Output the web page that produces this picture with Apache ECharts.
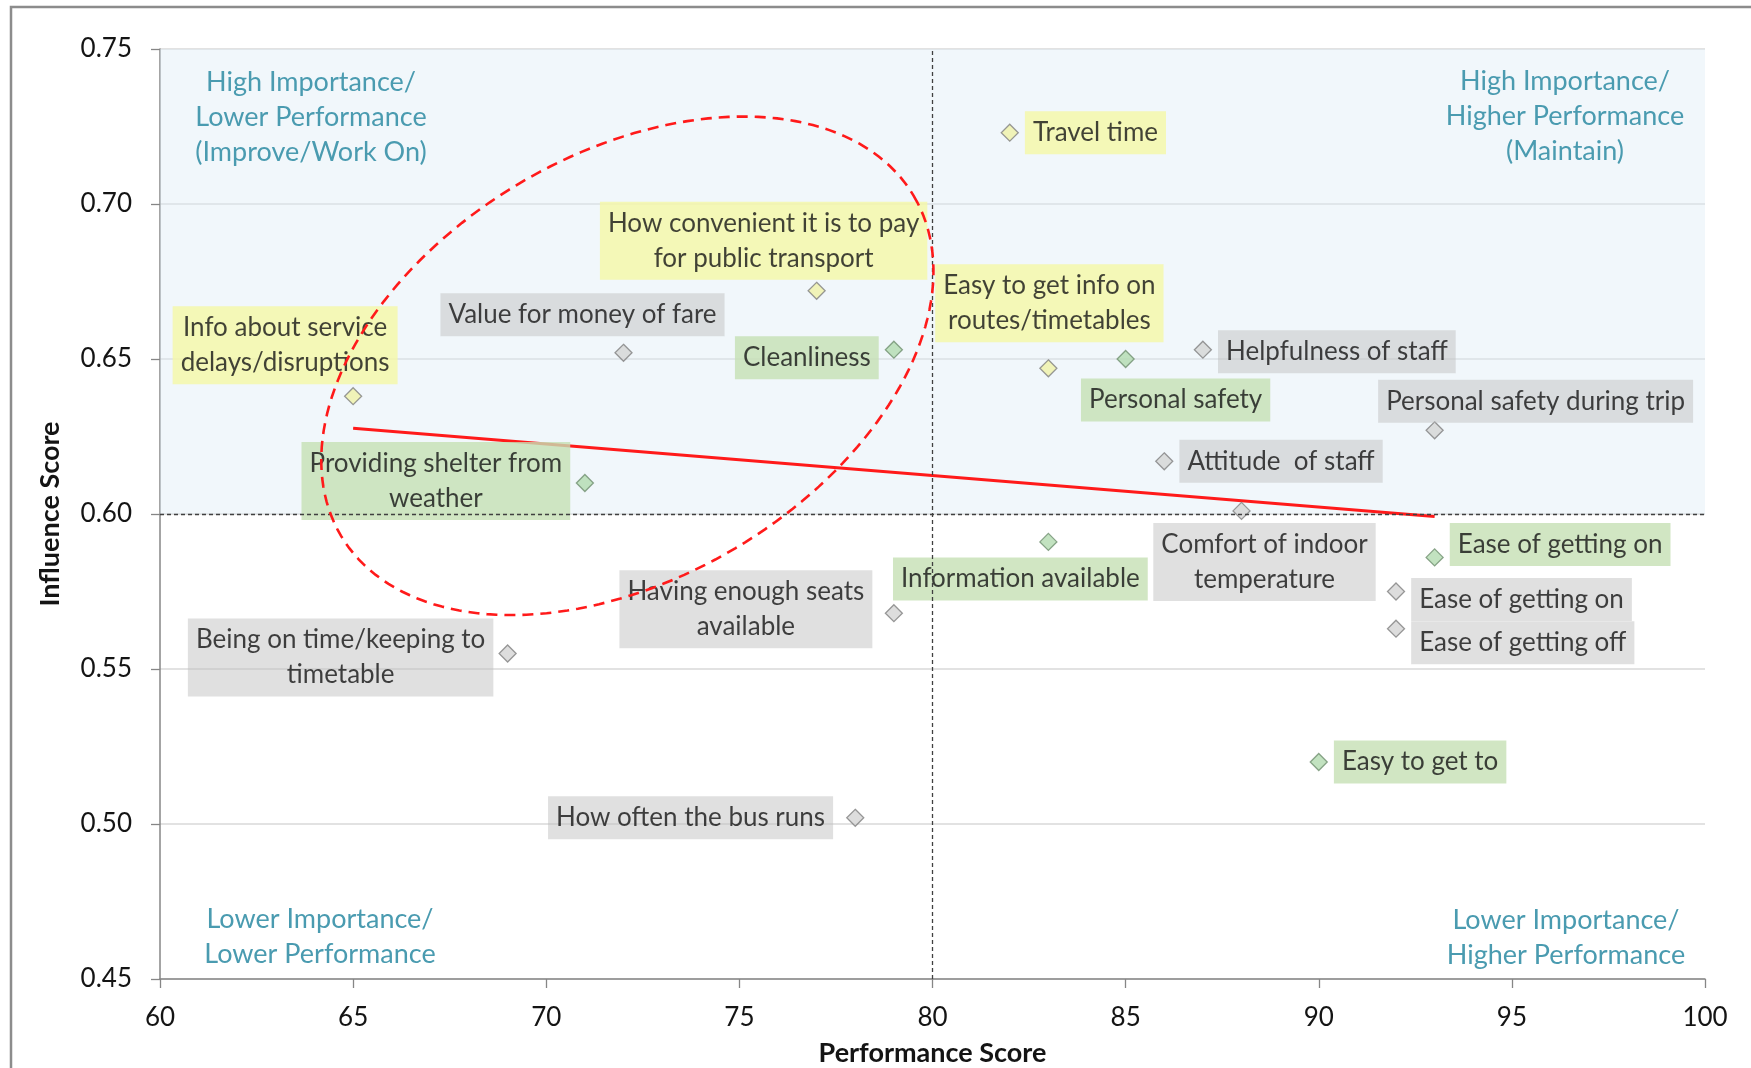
<!DOCTYPE html>
<html><head><meta charset="utf-8">
<script src="https://cdn.jsdelivr.net/npm/echarts@6/dist/echarts.min.js"></script>
<style>html,body{margin:0;padding:0;background:#fff}#c{width:1751px;height:1068px}</style>
</head><body><div id="c"></div>
<script>
// ---- data ----
const names = [
  'Travel time',
  'How convenient it is to pay\nfor public transport',
  'Value for money of fare',
  'Cleanliness',
  'Info about service\ndelays/disruptions',
  'Easy to get info on\nroutes/timetables',
  'Personal safety',
  'Helpfulness of staff',
  'Personal safety during trip',
  'Attitude  of staff',
  'Providing shelter from\nweather',
  'Comfort of indoor\ntemperature',
  'Information available',
  'Ease of getting on',
  'Ease of getting on',
  'Ease of getting off',
  'Having enough seats\navailable',
  'Being on time/keeping to\ntimetable',
  'Easy to get to',
  'How often the bus runs'
];
const performance = [82, 77, 72, 79, 65, 83, 85, 87, 93, 86, 71, 88, 83, 93, 92, 92, 79, 69, 90, 78];
const influence   = [0.723, 0.672, 0.652, 0.653, 0.638, 0.647, 0.650, 0.653, 0.627, 0.617, 0.610, 0.601, 0.591, 0.586, 0.575, 0.563, 0.568, 0.555, 0.520, 0.502];
const groups = ['yellow','yellow','gray','green','yellow','yellow','green','gray','gray','gray','green','gray','green','green','gray','gray','gray','gray','green','gray'];
const xTickValues = [60, 65, 70, 75, 80, 85, 90, 95, 100];
const yTickValues = [0.45, 0.50, 0.55, 0.60, 0.65, 0.70, 0.75];
const thresholdX = 80;
const thresholdY = 0.60;
const quadrantTexts = [
  'High Importance/\nLower Performance\n(Improve/Work On)',
  'High Importance/\nHigher Performance\n(Maintain)',
  'Lower Importance/\nLower Performance',
  'Lower Importance/\nHigher Performance'
];
const highlightEllipse = { center: [72.1, 0.6478] };

// ---- layout / style (kept apart from data) ----
const labelPlacement = [
  ['right', 0, 0], ['inside', -53, -50], ['inside', -41, -38], ['left', 0, 8],
  ['inside', -68, -51], ['inside', 1, -65], ['inside', 50, 41], ['right', 0, 2],
  ['inside', 101, -29], ['right', 0, 0], ['inside', -149, -2], ['inside', 23, 51],
  ['inside', -28, 37], ['right', 0, -13], ['right', 0, 8], ['right', 0, 14],
  ['inside', -148, -4], ['inside', -167, 4], ['right', 0, 0], ['left', -7, 0]
];
const groupStyle = {
  yellow: { fill: '#F0F1A8', border: '#7F7F7F', box: '#F5F7A6' },
  green:  { fill: '#B3DBB0', border: '#6F8F6F', box: '#C5E0B4' },
  gray:   { fill: '#D4D4D4', border: '#7F7F7F', box: 'rgba(191,191,191,0.6)' }
};
const FONT = 'Lato';
const teal = '#4A9BB0';

// least-squares trendline from the data
const n = performance.length;
const mx = performance.reduce((a, b) => a + b, 0) / n;
const my = influence.reduce((a, b) => a + b, 0) / n;
let sxy = 0, sxx = 0;
for (let i = 0; i < n; i++) { sxy += (performance[i] - mx) * (influence[i] - my); sxx += (performance[i] - mx) ** 2; }
const slope = sxy / sxx, icpt = my - slope * mx;
const xMin = Math.min(...performance), xMax = Math.max(...performance);
const trend = [[xMin, icpt + slope * xMin], [xMax, icpt + slope * xMax]];

const points = names.map((name, i) => {
  const g = groupStyle[groups[i]];
  const p = labelPlacement[i];
  const lab = {
    show: true, formatter: name, position: p[0], offset: [p[1], p[2]],
    fontFamily: FONT, fontSize: 26, color: '#141414', lineHeight: 35,
    backgroundColor: g.box, padding: [4, 8], distance: 6
  };
  if (p[0] === 'inside') { lab.align = 'center'; lab.verticalAlign = 'middle'; }
  return {
    value: [performance[i], influence[i]],
    itemStyle: { color: g.fill, borderColor: g.border, borderWidth: 1.3 },
    label: lab
  };
});

const chart = echarts.init(document.getElementById('c'), null, { renderer: 'canvas' });
const axisColor = '#868686';
chart.setOption({
  animation: false,
  backgroundColor: '#ffffff',
  grid: { left: 160, right: 46, top: 49, bottom: 89, containLabel: false, outerBoundsMode: 'none' },
  xAxis: {
    type: 'value', min: xTickValues[0], max: xTickValues[xTickValues.length - 1], interval: 5,
    name: 'Performance Score', nameLocation: 'middle', nameGap: 61,
    nameTextStyle: { fontFamily: FONT, fontSize: 27, fontWeight: 'bold', color: '#141414' },
    axisLine: { lineStyle: { color: axisColor, width: 1.5 } },
    axisTick: { show: true, inside: false, length: 9, lineStyle: { color: axisColor, width: 1.3 } },
    axisLabel: { fontFamily: FONT, fontSize: 26, color: '#141414', margin: 26 },
    splitLine: { show: false }
  },
  yAxis: {
    type: 'value', min: yTickValues[0], max: yTickValues[yTickValues.length - 1], interval: 0.05,
    name: 'Influence Score', nameLocation: 'middle', nameGap: 96, nameRotate: 90,
    nameTextStyle: { fontFamily: FONT, fontSize: 27, fontWeight: 'bold', color: '#141414' },
    axisLine: { show: true, lineStyle: { color: axisColor, width: 1.5 } },
    axisTick: { show: true, inside: false, length: 9, lineStyle: { color: axisColor, width: 1.3 } },
    axisLabel: { fontFamily: FONT, fontSize: 26, color: '#141414', margin: 28, formatter: v => v.toFixed(2) },
    splitLine: { show: true, lineStyle: { color: '#D9D9D9', width: 1.5 } }
  },
  series: [
    {
      type: 'line', name: 'trend', data: trend, symbol: 'none', z: 2,
      lineStyle: { color: '#FF1A1A', width: 3 },
      markArea: {
        silent: true,
        itemStyle: { color: 'rgba(222,235,245,0.42)' },
        data: [[{ coord: [xTickValues[0], thresholdY] }, { coord: [xTickValues[xTickValues.length - 1], yTickValues[yTickValues.length - 1]] }]]
      },
      markLine: {
        silent: true, symbol: 'none', label: { show: false },
        lineStyle: { color: '#404040', width: 1.3, type: [4, 3] },
        data: [{ xAxis: thresholdX }, { yAxis: thresholdY }]
      }
    },
    {
      type: 'scatter', name: 'items', symbol: 'diamond', symbolSize: 17, z: 3,
      data: points
    },
    {
      type: 'custom', name: 'highlight', z: 5, silent: true,
      data: [highlightEllipse.center],
      renderItem: function (params, api) {
        const c = api.coord([api.value(0), api.value(1)]);
        const a = 333, b = 212, th = 30.7 * Math.PI / 180;
        const pts = [];
        for (let k = 0; k <= 180; k++) {
          const t = k / 180 * Math.PI * 2;
          pts.push([
            c[0] + a * Math.cos(t) * Math.cos(th) + b * Math.sin(t) * Math.sin(th),
            c[1] - a * Math.cos(t) * Math.sin(th) + b * Math.sin(t) * Math.cos(th)
          ]);
        }
        return {
          type: 'polygon', shape: { points: pts },
          style: { fill: 'none', stroke: '#FF1A1A', lineWidth: 2.6, lineDash: [11, 7] }
        };
      }
    }
  ],
  graphic: [
    { type: 'rect', shape: { x: 11, y: 7, width: 1900, height: 1200 }, style: { fill: 'none', stroke: '#8C8C8C', lineWidth: 2.5 }, z: 100 },
    { type: 'text', z: 50, x: 311, y: 65, style: { text: quadrantTexts[0], fill: teal, font: '27px ' + FONT, align: 'center', verticalAlign: 'top', lineHeight: 35 } },
    { type: 'text', z: 50, x: 1565, y: 64, style: { text: quadrantTexts[1], fill: teal, font: '27px ' + FONT, align: 'center', verticalAlign: 'top', lineHeight: 35 } },
    { type: 'text', z: 50, x: 320, y: 902, style: { text: quadrantTexts[2], fill: teal, font: '27px ' + FONT, align: 'center', verticalAlign: 'top', lineHeight: 35 } },
    { type: 'text', z: 50, x: 1566, y: 903, style: { text: quadrantTexts[3], fill: teal, font: '27px ' + FONT, align: 'center', verticalAlign: 'top', lineHeight: 35 } }
  ]
});
</script>
</body></html>
